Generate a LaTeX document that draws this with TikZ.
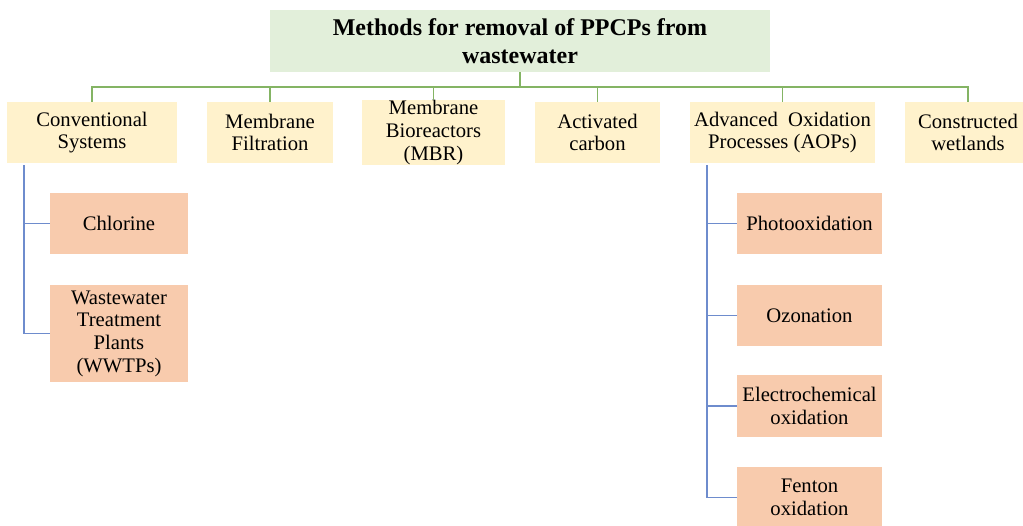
\documentclass[tikz,border=0pt]{standalone}
\usepackage{fontspec}
\setmainfont{Liberation Serif}
\usepackage{tikz}
\usetikzlibrary{positioning,calc}
\usepackage{xcolor}
\definecolor{headgreen}{RGB}{226,239,218}
\definecolor{methodtan}{RGB}{255,242,204}
\definecolor{subsalmon}{RGB}{248,203,173}
\definecolor{linegreen}{RGB}{132,180,100}
\definecolor{lineblue}{RGB}{110,140,205}

\begin{document}
\begin{tikzpicture}[x=0.75pt,y=-0.75pt,
    headbox/.style={fill=headgreen,minimum width=500*0.75pt,minimum height=62*0.75pt,
      inner sep=0pt,align=center,font=\bfseries\fontsize{18}{20.5}\selectfont},
    methodbox/.style={fill=methodtan,minimum height=61*0.75pt,inner sep=0pt,
      align=center,font=\fontsize{15.5}{17}\selectfont},
    subbox/.style={fill=subsalmon,minimum height=61*0.75pt,inner sep=0pt,
      align=center,font=\fontsize{15.5}{17}\selectfont},
    greenline/.style={draw=linegreen,line width=1pt},
    blueline/.style={draw=lineblue,line width=1pt}]
        \useasboundingbox (0,0) rectangle (1023,525);
        % title and main methods
        \node[headbox] (title) at (520,41) {Methods for removal of PPCPs from\\wastewater};
        \node[methodbox,minimum width=170*0.75pt] (conv) at (92,132.5) {Conventional\\Systems};
        \node[methodbox,minimum width=126*0.75pt] (memfilt) at (270,132.5) {Membrane\\Filtration};
        \node[methodbox,minimum width=143*0.75pt] (mbr) at (433.5,132.5) {Membrane\\Bioreactors\\(MBR)};
        \node[methodbox,minimum width=125*0.75pt] (actcarb) at (597.5,132.5) {Activated\\carbon};
        \node[methodbox,minimum width=185*0.75pt] (aops) at (782.5,132.5) {Advanced\ \ Oxidation\\Processes\ (AOPs)};
        \node[methodbox,minimum width=126*0.75pt] (wetl) at (968,132.5) {Constructed\\wetlands};
        % sub methods
        \node[subbox,minimum width=138*0.75pt] (chlor) at (119,223.5) {Chlorine};
        \node[subbox,minimum width=138*0.75pt,minimum height=97*0.75pt] (wwtp) at (119,333.5) {Wastewater\\Treatment\\Plants\\(WWTPs)};
        \node[subbox,minimum width=145*0.75pt] (photo) at (809.5,223.5) {Photooxidation};
        \node[subbox,minimum width=145*0.75pt] (ozon) at (809.5,315.5) {Ozonation};
        \node[subbox,minimum width=145*0.75pt,minimum height=62*0.75pt] (electro) at (809.5,406) {Electrochemical\\oxidation};
        \node[subbox,minimum width=145*0.75pt] (fenton) at (809.5,497.5) {Fenton\\oxidation};
        % connectors
        \coordinate (bus) at (520,87);
        \draw[greenline] (title.south) -- (bus);
        \foreach \m in {conv,memfilt,mbr,actcarb,aops,wetl}{
          \draw[greenline] (\m.north) |- (bus);
        }
        \coordinate (convtrunk) at (24,165);
        \coordinate (aopstrunk) at (707,165);
        \foreach \s in {chlor,wwtp}{\draw[blueline] (convtrunk) |- (\s.west);}
        \foreach \s in {photo,ozon,electro,fenton}{\draw[blueline] (aopstrunk) |- (\s.west);}
      \end{tikzpicture}
\end{document}
